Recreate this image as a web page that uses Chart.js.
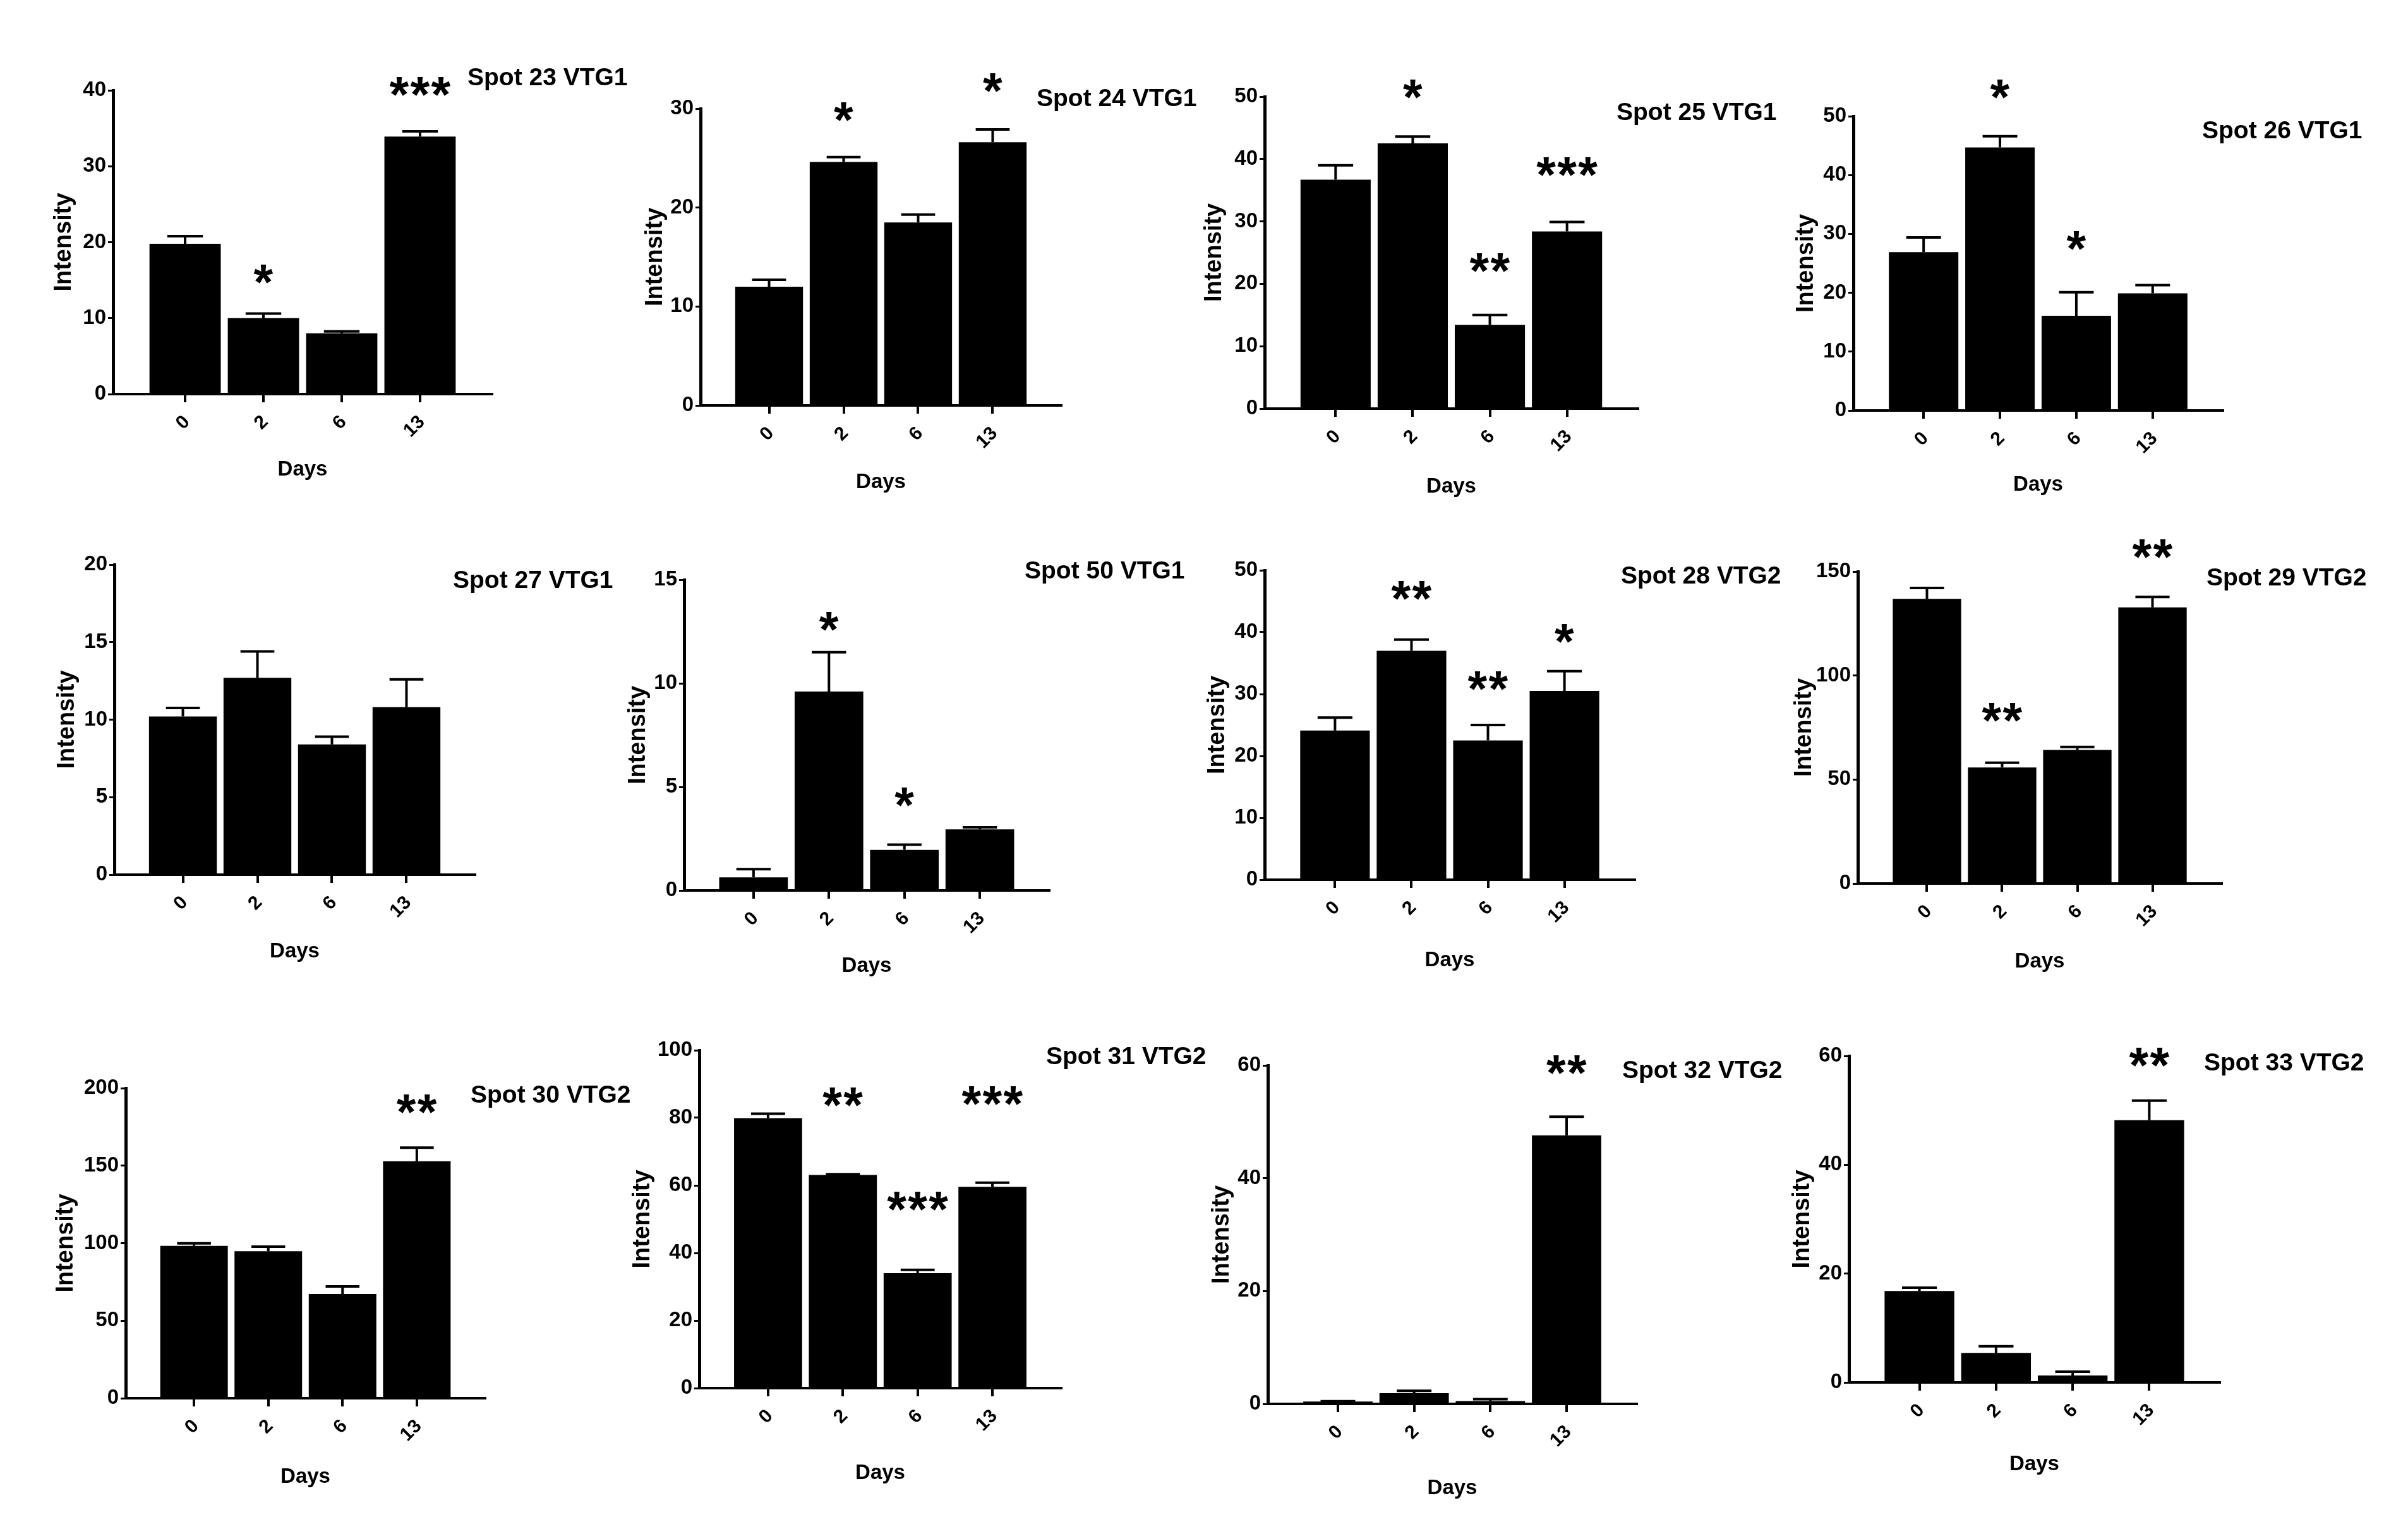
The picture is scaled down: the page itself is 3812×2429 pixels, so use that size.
<!DOCTYPE html>
<html lang="en">
<head>
<meta charset="UTF-8">
<title>VTG spot intensity over days</title>
<script src="https://cdn.jsdelivr.net/npm/chart.js@4"></script>
<style>
  body { margin: 0; width: 3812px; height: 2429px; background: #fff; position: relative; overflow: hidden; }
  canvas { position: absolute; }
  .spotTitle {
    position: absolute;
    font: bold 39px 'Liberation Sans', Arial, sans-serif;
    line-height: 1;
    white-space: nowrap;
    color: #000;
  }
</style>
</head>
<body>
<script>
// categories on the x axis
const days = ['0', '2', '6', '13'];

// mean intensity, error (upper bar), significance stars and where the stars sit (in y units)
const spot23 = [19.8, 10.0, 8.0, 33.9];
const err23 = [1.0, 0.6, 0.25, 0.7];
const sig23 = ['', '*', '', '***'];
const sigY23 = [null, 15.8, null, 40.5];
const yTicks23 = [0, 10, 20, 30, 40];

const spot24 = [12.0, 24.6, 18.5, 26.6];
const err24 = [0.7, 0.5, 0.8, 1.3];
const sig24 = ['', '*', '', '*'];
const sigY24 = [null, 29.7, null, 32.6];
const yTicks24 = [0, 10, 20, 30];

const spot25 = [36.7, 42.5, 13.4, 28.4];
const err25 = [2.3, 1.1, 1.6, 1.5];
const sig25 = ['', '*', '**', '***'];
const sigY25 = [null, 51.2, 23.4, 38.8];
const yTicks25 = [0, 10, 20, 30, 40, 50];

const spot26 = [26.9, 44.7, 16.1, 19.9];
const err26 = [2.5, 1.9, 4.0, 1.4];
const sig26 = ['', '*', '*', ''];
const sigY26 = [null, 54.6, 28.9, null];
const yTicks26 = [0, 10, 20, 30, 40, 50];

const spot27 = [10.2, 12.7, 8.4, 10.8];
const err27 = [0.55, 1.7, 0.5, 1.8];
const sig27 = ['', '', '', ''];
const sigY27 = [null, null, null, null];
const yTicks27 = [0, 5, 10, 15, 20];

const spot50 = [0.63, 9.6, 1.96, 2.95];
const err50 = [0.4, 1.9, 0.25, 0.1];
const sig50 = ['', '*', '*', ''];
const sigY50 = [null, 13.0, 4.5, null];
const yTicks50 = [0, 5, 10, 15];

const spot28 = [24.1, 37.0, 22.5, 30.5];
const err28 = [2.1, 1.8, 2.5, 3.2];
const sig28 = ['', '**', '**', '*'];
const sigY28 = [null, 46.7, 32.1, 39.8];
const yTicks28 = [0, 10, 20, 30, 40, 50];

const spot29 = [136.9, 55.8, 64.2, 132.8];
const err29 = [5.2, 2.3, 1.5, 5.0];
const sig29 = ['', '**', '', '**'];
const sigY29 = [null, 82.2, null, 161];
const yTicks29 = [0, 50, 100, 150];

const spot30 = [98.3, 94.8, 67.2, 152.9];
const err30 = [1.6, 3.0, 4.9, 8.7];
const sig30 = ['', '', '', '**'];
const sigY30 = [null, null, null, 189.9];
const yTicks30 = [0, 50, 100, 150, 200];

const spot31 = [79.9, 63.1, 34.0, 59.6];
const err31 = [1.3, 0.2, 1.0, 1.2];
const sig31 = ['', '**', '***', '***'];
const sigY31 = [null, 86.1, 55.3, 86.6];
const yTicks31 = [0, 20, 40, 60, 80, 100];

const spot32 = [0.43, 1.9, 0.5, 47.6];
const err32 = [0.05, 0.43, 0.35, 3.3];
const sig32 = ['', '', '', '**'];
const sigY32 = [null, null, null, 60.1];
const yTicks32 = [0, 20, 40, 60];

const spot33 = [16.8, 5.44, 1.28, 48.2];
const err33 = [0.6, 1.2, 0.7, 3.6];
const sig33 = ['', '', '', '**'];
const sigY33 = [null, null, null, 59.8];
const yTicks33 = [0, 20, 40, 60];

const panels = [
  { name: 'Spot 23 VTG1', values: spot23, errors: err23, sig: sig23, sigY: sigY23, yTicks: yTicks23 },
  { name: 'Spot 24 VTG1', values: spot24, errors: err24, sig: sig24, sigY: sigY24, yTicks: yTicks24 },
  { name: 'Spot 25 VTG1', values: spot25, errors: err25, sig: sig25, sigY: sigY25, yTicks: yTicks25 },
  { name: 'Spot 26 VTG1', values: spot26, errors: err26, sig: sig26, sigY: sigY26, yTicks: yTicks26 },
  { name: 'Spot 27 VTG1', values: spot27, errors: err27, sig: sig27, sigY: sigY27, yTicks: yTicks27 },
  { name: 'Spot 50 VTG1', values: spot50, errors: err50, sig: sig50, sigY: sigY50, yTicks: yTicks50 },
  { name: 'Spot 28 VTG2', values: spot28, errors: err28, sig: sig28, sigY: sigY28, yTicks: yTicks28 },
  { name: 'Spot 29 VTG2', values: spot29, errors: err29, sig: sig29, sigY: sigY29, yTicks: yTicks29 },
  { name: 'Spot 30 VTG2', values: spot30, errors: err30, sig: sig30, sigY: sigY30, yTicks: yTicks30 },
  { name: 'Spot 31 VTG2', values: spot31, errors: err31, sig: sig31, sigY: sigY31, yTicks: yTicks31 },
  { name: 'Spot 32 VTG2', values: spot32, errors: err32, sig: sig32, sigY: sigY32, yTicks: yTicks32 },
  { name: 'Spot 33 VTG2', values: spot33, errors: err33, sig: sig33, sigY: sigY33, yTicks: yTicks33 }
];

// page layout: plot box (x0 = y axis, x1 = right end of x axis, y1 = top tick, y0 = zero line),
// centre of the y title (yt), centre of the x title (xt), panel title left edge / baseline (tx, ty)
const boxes = [
  { x0: 179,  x1: 779,  y1: 143,  y0: 624,  yt: 102,  xt: 744,  tx: 740,  ty: 135 },
  { x0: 1109, x1: 1680, y1: 172,  y0: 642,  yt: 1038, xt: 764,  tx: 1641, ty: 168 },
  { x0: 2002, x1: 2593, y1: 153,  y0: 647,  yt: 1923, xt: 771,  tx: 2559, ty: 190 },
  { x0: 2934, x1: 3519, y1: 184,  y0: 650,  yt: 2860, xt: 768,  tx: 3486, ty: 219 },
  { x0: 181,  x1: 752,  y1: 894,  y0: 1385, yt: 107,  xt: 1507, tx: 717,  ty: 931 },
  { x0: 1083, x1: 1661, y1: 918,  y0: 1410, yt: 1011, xt: 1530, tx: 1622, ty: 916 },
  { x0: 2002, x1: 2588, y1: 903,  y0: 1393, yt: 1928, xt: 1521, tx: 2566, ty: 924 },
  { x0: 2941, x1: 3517, y1: 905,  y0: 1399, yt: 2857, xt: 1523, tx: 3493, ty: 927 },
  { x0: 199,  x1: 768,  y1: 1723, y0: 2214, yt: 105,  xt: 2339, tx: 745,  ty: 1746 },
  { x0: 1107, x1: 1680, y1: 1663, y0: 2198, yt: 1018, xt: 2333, tx: 1656, ty: 1685 },
  { x0: 2007, x1: 2591, y1: 1687, y0: 2223, yt: 1935, xt: 2357, tx: 2568, ty: 1707 },
  { x0: 2927, x1: 3514, y1: 1672, y0: 2189, yt: 2854, xt: 2319, tx: 3489, ty: 1695 }
];

const FONT = "'Liberation Sans', Arial, Helvetica, sans-serif";
const YW = 130;        // width of the y axis box
const PAD_TOP = 80;    // room above the plot for stars
const PAD_RIGHT = 10;
const PAD_BOTTOM = 10;
const STAR_H = 30;     // drawn height of one asterisk
const STAR_GAP = 33;   // distance between asterisks

Chart.defaults.font.family = FONT;
Chart.defaults.font.weight = 'bold';
Chart.defaults.color = '#000';

// error bars on top of each bar and the significance stars
const barExtras = {
  id: 'barExtras',
  afterDraw(chart, args, opts) {
    const ctx = chart.ctx;
    const y = chart.scales.y;
    const bars = chart.getDatasetMeta(0).data;
    ctx.save();
    ctx.strokeStyle = '#000';
    ctx.fillStyle = '#000';
    ctx.lineWidth = 4;
    bars.forEach((bar, i) => {
      const yBar = y.getPixelForValue(opts.values[i]);
      const yTop = y.getPixelForValue(opts.values[i] + opts.errors[i]);
      const half = bar.width / 4;
      ctx.beginPath();
      ctx.moveTo(bar.x, yBar);
      ctx.lineTo(bar.x, yTop);
      ctx.moveTo(bar.x - half, yTop);
      ctx.lineTo(bar.x + half, yTop);
      ctx.stroke();
    });

    ctx.font = 'bold 100px ' + FONT;
    let m = ctx.measureText('*');
    const size = 100 * STAR_H / (m.actualBoundingBoxAscent + m.actualBoundingBoxDescent);
    ctx.font = 'bold ' + size.toFixed(1) + 'px ' + FONT;
    m = ctx.measureText('*');
    ctx.textAlign = 'left';
    ctx.textBaseline = 'alphabetic';
    bars.forEach((bar, i) => {
      const s = opts.sig[i];
      if (!s) return;
      const cy = y.getPixelForValue(opts.sigY[i]);
      const base = cy + (m.actualBoundingBoxAscent - m.actualBoundingBoxDescent) / 2;
      for (let k = 0; k < s.length; k++) {
        const cx = bar.x + (k - (s.length - 1) / 2) * STAR_GAP;
        ctx.fillText('*', cx - (m.actualBoundingBoxRight - m.actualBoundingBoxLeft) / 2, base);
      }
    });
    ctx.restore();
  }
};

panels.forEach((p, k) => {
  const b = boxes[k];
  const left = b.x0 - YW;
  const top = b.y1 - PAD_TOP;
  const width = b.x1 + PAD_RIGHT - left;
  const height = b.xt + 25 + PAD_BOTTOM - top;
  const xh = height - PAD_BOTTOM - (b.y0 - top);

  const canvas = document.createElement('canvas');
  canvas.width = width;
  canvas.height = height;
  canvas.style.left = left + 'px';
  canvas.style.top = top + 'px';
  document.body.appendChild(canvas);

  const title = document.createElement('div');
  title.className = 'spotTitle';
  title.textContent = p.name;
  title.style.left = b.tx + 'px';
  title.style.top = (b.ty - 33) + 'px';
  document.body.appendChild(title);

  const yStep = p.yTicks[1] - p.yTicks[0];
  const yMax = p.yTicks[p.yTicks.length - 1];

  new Chart(canvas, {
    type: 'bar',
    data: {
      datasets: [{
        data: p.values.map((v, i) => ({ x: i, y: v })),
        backgroundColor: '#000',
        borderWidth: 0,
        barPercentage: 0.91,
        categoryPercentage: 1
      }]
    },
    options: {
      responsive: false,
      animation: false,
      events: [],
      layout: { padding: { left: 0, top: PAD_TOP, right: PAD_RIGHT, bottom: PAD_BOTTOM } },
      plugins: {
        legend: { display: false },
        tooltip: { enabled: false },
        barExtras: { values: p.values, errors: p.errors, sig: p.sig, sigY: p.sigY }
      },
      scales: {
        x: {
          type: 'linear',
          min: -0.92,
          max: 3.92,
          offset: false,
          afterBuildTicks: s => { s.ticks = days.map((d, i) => ({ value: i })); },
          afterFit: s => { s.height = xh; },
          grid: { display: true, drawOnChartArea: false, drawTicks: true, tickLength: 13, color: '#000', lineWidth: 4, offset: false },
          border: { display: true, color: '#000', width: 4 },
          ticks: {
            autoSkip: false,
            minRotation: 45,
            maxRotation: 45,
            padding: 14,
            labelOffset: 3,
            font: { size: 30, weight: 'bold' },
            callback: v => days[v]
          },
          title: { display: true, text: 'Days', font: { size: 33, weight: 'bold' }, padding: { top: 0, bottom: 25 - 19.8 } }
        },
        y: {
          min: 0,
          max: yMax,
          afterFit: s => { s.width = YW; },
          afterBuildTicks: s => { s.ticks = p.yTicks.map(v => ({ value: v })); },
          grid: { display: true, drawOnChartArea: false, drawTicks: true, tickLength: 8, color: '#000', lineWidth: 3 },
          border: { display: true, color: '#000', width: 5 },
          ticks: { stepSize: yStep, padding: 3, font: { size: 33, weight: 'bold' } },
          title: {
            display: true,
            text: 'Intensity',
            font: { size: 38, weight: 'bold' },
            padding: { top: YW - (b.x0 - b.yt) - 22.8, bottom: 0 }
          }
        }
      }
    },
    plugins: [barExtras]
  });
});
</script>
</body>
</html>
